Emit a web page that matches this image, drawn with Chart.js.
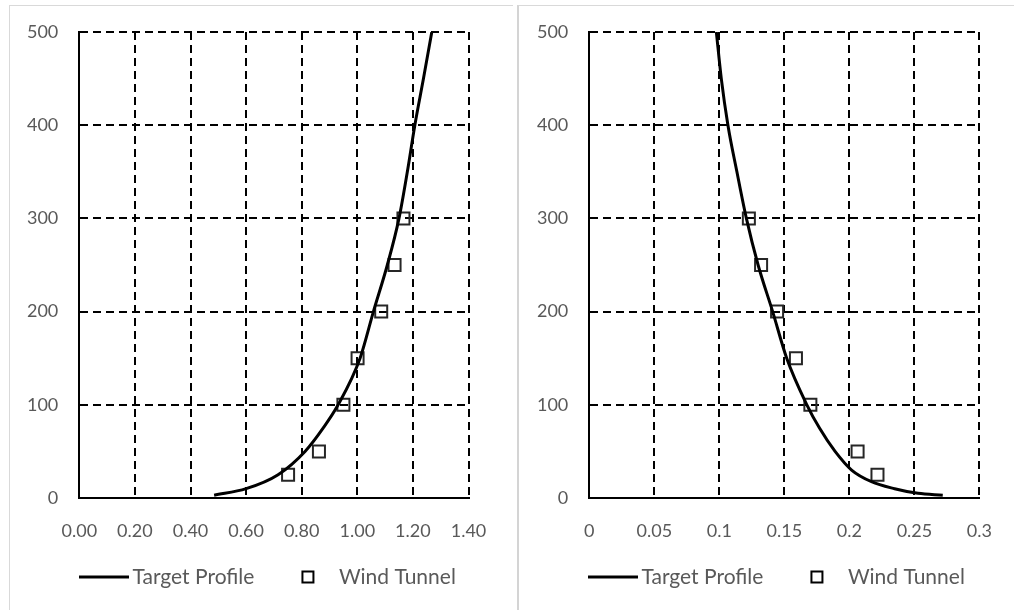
<!DOCTYPE html>
<html>
<head>
<meta charset="utf-8">
<script src="https://cdn.jsdelivr.net/npm/chart.js@4.4.1/dist/chart.umd.min.js"></script>
<style>
  html, body { margin: 0; padding: 0; background: #fff; }
  body { width: 1014px; height: 610px; position: relative; overflow: hidden; }
  .panel { position: absolute; border-top: 1px solid #d9d9d9; }
  #panel-left { left: 9px; top: 5px; width: 503px; height: 605px; border-left: 1px solid #d9d9d9; }
  #panel-right { left: 517px; top: 5px; width: 497px; height: 605px; border-left: 2px solid #d4d4d4; }
  canvas { position: absolute; top: 0; left: 0; }
  #wrap-left { position: absolute; left: 0; top: 0; width: 512px; height: 610px; }
  #wrap-right { position: absolute; left: 512px; top: 0; width: 502px; height: 610px; }
</style>
</head>
<body>
<div class="panel" id="panel-left"></div>
<div class="panel" id="panel-right"></div>
<div id="wrap-left"><canvas id="chart-speed"></canvas></div>
<div id="wrap-right"><canvas id="chart-turb"></canvas></div>
<script>
    // Series names
    const seriesNames = ['Target Profile', 'Wind Tunnel'];

    // Left chart: mean speed ratio vs height
    const speedTargetHeights = [3, 10, 25, 50, 75, 100, 150, 200, 250, 300, 350, 400, 450, 500];
    const speedTargetValues = [0.485, 0.60, 0.715, 0.812, 0.877, 0.931, 1.01, 1.058, 1.108, 1.15, 1.18, 1.207, 1.238, 1.268];
    const speedTunnelHeights = [25, 50, 100, 150, 200, 250, 300];
    const speedTunnelValues = [0.751, 0.862, 0.950, 1.001, 1.086, 1.134, 1.166];
    const speedTickLabels = ['0.00', '0.20', '0.40', '0.60', '0.80', '1.00', '1.20', '1.40'];

    // Right chart: turbulence intensity vs height
    const turbTargetHeights = [500, 450, 400, 350, 300, 250, 200, 150, 100, 75, 50, 30, 17.5, 10, 5, 3];
    const turbTargetValues = [0.0977, 0.1015, 0.1066, 0.1135, 0.1208, 0.1298, 0.141, 0.1518, 0.1673, 0.177, 0.189, 0.2017, 0.217, 0.2348, 0.2527, 0.2718];
    const turbTunnelHeights = [25, 50, 100, 150, 200, 250, 300];
    const turbTunnelValues = [0.2216, 0.2063, 0.170, 0.1589, 0.1444, 0.1321, 0.1227];
    const turbTickLabels = ['0', '0.05', '0.1', '0.15', '0.2', '0.25', '0.3'];

    // Shared height axis labels
    const heightTickLabels = ['0', '100', '200', '300', '400', '500'];

    Chart.defaults.font.family = 'Lato';
    Chart.defaults.font.size = 18;
    Chart.defaults.color = '#595959';

    const toPoints = (xs, ys) => xs.map((x, i) => ({ x: x, y: ys[i] }));

    // Legend icons drawn to small canvases, so the line and the square can sit apart
    const makeIcon = (kind) => {
        const c = document.createElement('canvas');
        c.width = 80;
        c.height = 17;
        const g = c.getContext('2d');
        g.strokeStyle = '#000';
        if (kind === 'line') {
            g.lineWidth = 3;
            g.beginPath();
            g.moveTo(29, 8.5);
            g.lineTo(79, 8.5);
            g.stroke();
        } else {
            g.lineWidth = 2;
            g.strokeRect(46, 3, 11, 11);
        }
        return c;
    };
    const legendIcons = [makeIcon('line'), makeIcon('square')];

    // Moves the legend sideways so it starts where the reference legend starts
    const legendOffset = {
        id: 'legendOffset',
        afterLayout: (chart, args, opts) => {
            chart.legend.left += opts.dx;
            chart.legend.right += opts.dx;
        }
    };

    const buildChart = (canvasId, cfg) => {
        const ctx = document.getElementById(canvasId).getContext('2d');
        return new Chart(ctx, {
            type: 'scatter',
            plugins: [legendOffset],
            data: {
                datasets: [{
                    label: seriesNames[0],
                    data: toPoints(cfg.targetX, cfg.targetY),
                    showLine: true,
                    borderColor: '#000',
                    borderWidth: 3,
                    pointRadius: 0,
                    cubicInterpolationMode: 'monotone',
                    fill: false
                }, {
                    label: seriesNames[1],
                    data: toPoints(cfg.tunnelX, cfg.tunnelY),
                    showLine: false,
                    pointStyle: 'rect',
                    pointRadius: 8.5,
                    borderColor: '#262626',
                    borderWidth: 2,
                    backgroundColor: 'rgba(0,0,0,0)'
                }]
            },
            options: {
                responsive: false,
                animation: false,
                events: [],
                layout: { padding: cfg.padding },
                plugins: {
                    tooltip: { enabled: false },
                    legendOffset: { dx: cfg.legendDx },
                    legend: {
                        position: 'bottom',
                        align: 'start',
                        labels: {
                            usePointStyle: true,
                            pointStyleWidth: 64,
                            padding: 10,
                            color: '#595959',
                            font: { size: 21 },
                            generateLabels: (chart) => Chart.defaults.plugins.legend.labels.generateLabels(chart)
                                .map((item, i) => Object.assign(item, { pointStyle: legendIcons[i] }))
                        }
                    }
                },
                scales: {
                    x: {
                        type: 'linear',
                        min: cfg.xMin,
                        max: cfg.xMax,
                        ticks: {
                            stepSize: cfg.xStep,
                            padding: 22,
                            callback: (v, i) => cfg.xLabels[i]
                        },
                        grid: { color: '#000', lineWidth: 2, drawTicks: false },
                        border: { display: true, color: '#000', width: 2, dash: [8, 5] },
                        afterFit: (s) => { s.height = 58.5; }
                    },
                    y: {
                        min: 0,
                        max: 500,
                        ticks: {
                            stepSize: 100,
                            padding: 21,
                            callback: (v, i) => heightTickLabels[i]
                        },
                        grid: { color: '#000', lineWidth: 2, drawTicks: false },
                        border: { display: true, color: '#000', width: 2, dash: [8, 5] },
                        afterFit: (s) => { s.width = cfg.yWidth; }
                    }
                }
            }
        });
    };

    const speedCanvas = document.getElementById('chart-speed');
    speedCanvas.width = 512;
    speedCanvas.height = 610;
    const turbCanvas = document.getElementById('chart-turb');
    turbCanvas.width = 502;
    turbCanvas.height = 610;

    buildChart('chart-speed', {
        targetX: speedTargetValues, targetY: speedTargetHeights,
        tunnelX: speedTunnelValues, tunnelY: speedTunnelHeights,
        xMin: 0, xMax: 1.4, xStep: 0.2, xLabels: speedTickLabels,
        padding: { left: 0, right: 43.5, top: 32, bottom: 12.5 },
        yWidth: 79.3,
        legendDx: 48
    });

    buildChart('chart-turb', {
        targetX: turbTargetValues, targetY: turbTargetHeights,
        tunnelX: turbTunnelValues, tunnelY: turbTunnelHeights,
        xMin: 0, xMax: 0.3, xStep: 0.05, xLabels: turbTickLabels,
        padding: { left: 0, right: 32.3, top: 32, bottom: 12.5 },
        yWidth: 77.3,
        legendDx: 45
    });
</script>
</body>
</html>
